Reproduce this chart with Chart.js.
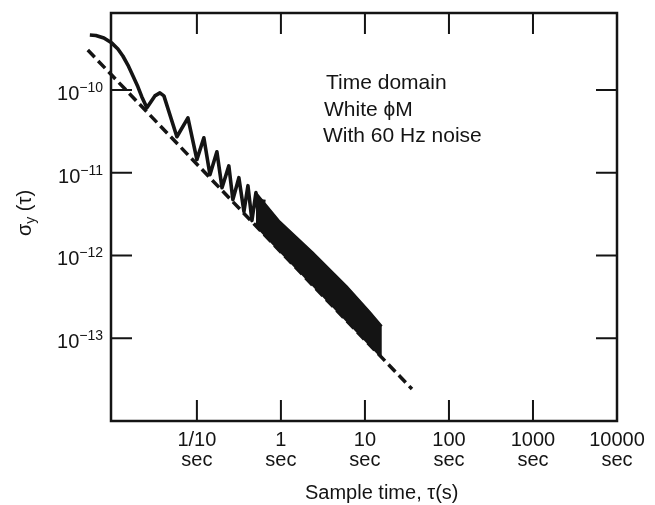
<!DOCTYPE html>
<html>
<head>
<meta charset="utf-8">
<script src="https://cdn.jsdelivr.net/npm/chart.js@4.4.1/dist/chart.umd.min.js"></script>
<style>
  html, body { margin: 0; padding: 0; background: #fff; }
</style>
</head>
<body>
<canvas id="chart" width="655" height="505"></canvas>
<script>
const FONT = '"Liberation Sans", Arial, Helvetica, sans-serif';
const INK = '#141414';

// axis ticks and labels
const xTicks = [0.1, 1, 10, 100, 1000, 10000];
const xTickLabels = [['1/10', 'sec'], ['1', 'sec'], ['10', 'sec'], ['100', 'sec'], ['1000', 'sec'], ['10000', 'sec']];
const yTicks = [1e-10, 1e-11, 1e-12, 1e-13];
const yTickExps = ['\u221210', '\u221211', '\u221212', '\u221213'];

// white phase noise reference line (dashed)
const dashTau = [0.00503, 36.3];
const dashSigma = [3.03e-10, 2.43e-14];

// sigma_y with 60 Hz noise, the open zigzag part
const noiseTau = [0.00532, 0.00628, 0.00782, 0.00973, 0.01148, 0.01315, 0.0151, 0.0173, 0.01986, 0.02213, 0.0254,
  0.0316, 0.0363, 0.0405, 0.0578, 0.0782, 0.100, 0.121, 0.143, 0.173, 0.199, 0.240, 0.268, 0.316,
  0.363, 0.405, 0.452, 0.504, 0.562, 0.628];
const noiseSigma = [4.60e-10, 4.54e-10, 4.24e-10, 3.68e-10, 3.12e-10, 2.57e-10, 2.00e-10, 1.48e-10, 1.09e-10, 8.24e-11, 6.07e-11,
  8.47e-11, 9.2e-11, 8.47e-11, 2.72e-11, 4.60e-11, 1.44e-11, 2.64e-11, 9.46e-12, 1.79e-11, 6.59e-12, 1.21e-11, 4.73e-12, 8.71e-12,
  3.39e-12, 6.97e-12, 2.64e-12, 5.74e-12, 2.11e-12, 4.73e-12];

// where the oscillation gets too dense: a filled band
const bandTau = [0.504, 0.97, 2.4, 6.1, 11.5, 15.9];
const bandUpper = [5.74e-12, 2.57e-12, 1.09e-12, 4.23e-13, 2.06e-13, 1.40e-13];
const bandLower = [2.28e-12, 1.13e-12, 4.35e-13, 1.61e-13, 8.22e-14, 5.83e-14];

const notes = ['Time domain', 'White \u03D5M', 'With 60 Hz noise'];

const pts = (xs, ys) => xs.map((x, i) => ({ x: x, y: ys[i] }));

// frame, inward ticks and all the hand placed text
const framePlugin = {
  id: 'frame',
  afterDraw(chart) {
    const { ctx, chartArea: a, scales: { x, y } } = chart;
    ctx.save();
    ctx.strokeStyle = INK;
    ctx.lineWidth = 2.5;
    ctx.strokeRect(a.left, a.top, a.right - a.left, a.bottom - a.top);

    ctx.lineWidth = 2;
    ctx.beginPath();
    xTicks.forEach(v => {
      if (v >= 10000) return;
      const px = x.getPixelForValue(v);
      ctx.moveTo(px, a.bottom); ctx.lineTo(px, a.bottom - 21);
      ctx.moveTo(px, a.top); ctx.lineTo(px, a.top + 21);
    });
    yTicks.forEach(v => {
      const py = y.getPixelForValue(v);
      ctx.moveTo(a.left, py); ctx.lineTo(a.left + 21, py);
      ctx.moveTo(a.right, py); ctx.lineTo(a.right - 21, py);
    });
    ctx.stroke();

    ctx.fillStyle = INK;
    ctx.textBaseline = 'alphabetic';

    // y tick labels 10^-n
    yTicks.forEach((v, i) => {
      const py = y.getPixelForValue(v);
      ctx.textAlign = 'right';
      ctx.font = '14px ' + FONT;
      ctx.fillText(yTickExps[i], 103, py + 2);
      const w = ctx.measureText(yTickExps[i]).width;
      ctx.font = '20px ' + FONT;
      ctx.fillText('10', 103 - w, py + 10);
    });

    // y title: sigma_y (tau)
    ctx.save();
    ctx.translate(24, 213);
    ctx.rotate(-Math.PI / 2);
    ctx.textAlign = 'left';
    ctx.font = '20px ' + FONT;
    const w1 = ctx.measureText('\u03C3').width;
    ctx.font = '14px ' + FONT;
    const w2 = ctx.measureText('y').width;
    ctx.font = '20px ' + FONT;
    const w3 = ctx.measureText(' (\u03C4)').width;
    let tx = -(w1 + w2 + w3) / 2;
    ctx.fillText('\u03C3', tx, 7);
    ctx.font = '14px ' + FONT;
    ctx.fillText('y', tx + w1, 11);
    ctx.font = '20px ' + FONT;
    ctx.fillText(' (\u03C4)', tx + w1 + w2, 7);
    ctx.restore();

    // x title
    ctx.textAlign = 'left';
    ctx.font = '20px ' + FONT;
    ctx.fillText('Sample time, \u03C4(s)', 305, 499);

    // notes
    ctx.font = '21px ' + FONT;
    ctx.fillText(notes[0], 326, 89);
    ctx.fillText(notes[1], 324, 116);
    ctx.fillText(notes[2], 323, 142);
    ctx.restore();
  }
};

new Chart(document.getElementById('chart'), {
  type: 'line',
  data: {
    datasets: [
      {
        data: pts(bandTau, bandUpper),
        borderColor: INK, backgroundColor: INK, borderWidth: 2,
        pointRadius: 0, fill: '+1', clip: false
      },
      {
        data: pts(bandTau, bandLower),
        borderColor: INK, borderWidth: 2,
        pointRadius: 0, fill: false, clip: false
      },
      {
        data: pts(noiseTau, noiseSigma),
        borderColor: INK, borderWidth: 3.6, tension: 0,
        borderJoinStyle: 'round', pointRadius: 0, fill: false, clip: false
      },
      {
        data: pts(dashTau, dashSigma),
        borderColor: INK, borderWidth: 3.5, borderDash: [10, 5],
        pointRadius: 0, fill: false, clip: false
      }
    ]
  },
  options: {
    responsive: false,
    animation: false,
    events: [],
    layout: { padding: { left: 0, top: 13, right: 38, bottom: 0 } },
    plugins: { legend: { display: false }, tooltip: { enabled: false } },
    scales: {
      x: {
        type: 'logarithmic',
        bounds: 'data',
        afterDataLimits: s => { s.min = 0.0095; s.max = 10000; },
        afterBuildTicks: s => { s.ticks = xTicks.map(v => ({ value: v })); },
        afterFit: s => { s.height = 84; },
        grid: { display: false, drawTicks: false },
        border: { display: false },
        ticks: {
          autoSkip: false, maxRotation: 0, padding: 9, color: INK,
          font: { family: FONT, size: 20, lineHeight: 1 },
          callback: (v, i) => xTickLabels[i]
        }
      },
      y: {
        type: 'logarithmic',
        bounds: 'data',
        min: 1e-14,
        max: 8.5e-10,
        afterBuildTicks: s => { s.ticks = yTicks.map(v => ({ value: v })); },
        afterFit: s => { s.width = 111; },
        grid: { display: false, drawTicks: false },
        border: { display: false },
        ticks: { display: false }
      }
    }
  },
  plugins: [framePlugin]
});
</script>
</body>
</html>
